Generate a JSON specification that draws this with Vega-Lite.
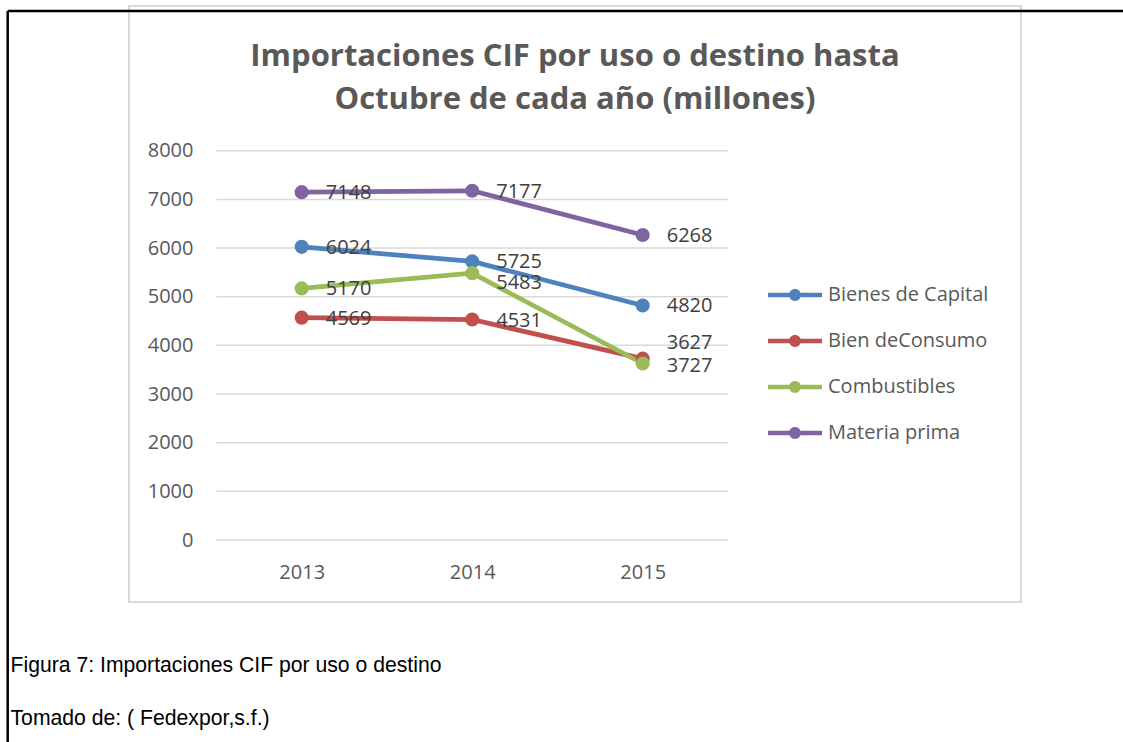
{
  "$schema": "https://vega.github.io/schema/vega-lite/v6.json",
  "width": 892,
  "height": 596,
  "autosize": {"type": "none"},
  "padding": {"left": 129, "top": 6, "right": 102, "bottom": 140},
  "background": "white",
  "config": {
    "view": {"stroke": "#d9d9d9", "strokeWidth": 2},
    "font": "Open Sans"
  },
  "title": {
    "text": ["Importaciones CIF por uso o destino hasta", "Octubre de cada año (millones)"],
    "font": "Open Sans",
    "fontSize": 31,
    "fontWeight": "bold",
    "color": "#595959",
    "anchor": "middle",
    "frame": "group",
    "baseline": "top",
    "offset": -110,
    "lineHeight": 43
  },
  "data": {
    "values": [
      {"series": "Bienes de Capital", "year": 2013, "value": 6024},
      {"series": "Bienes de Capital", "year": 2014, "value": 5725},
      {"series": "Bienes de Capital", "year": 2015, "value": 4820},
      {"series": "Bien deConsumo", "year": 2013, "value": 4569},
      {"series": "Bien deConsumo", "year": 2014, "value": 4531},
      {"series": "Bien deConsumo", "year": 2015, "value": 3727},
      {"series": "Combustibles", "year": 2013, "value": 5170},
      {"series": "Combustibles", "year": 2014, "value": 5483},
      {"series": "Combustibles", "year": 2015, "value": 3627},
      {"series": "Materia prima", "year": 2013, "value": 7148},
      {"series": "Materia prima", "year": 2014, "value": 7177},
      {"series": "Materia prima", "year": 2015, "value": 6268}
    ]
  },
  "layer": [
    {
      "data": {"values": [{"edge": "left"}]},
      "mark": {"type": "rule", "color": "#000000", "strokeWidth": 2.5},
      "encoding": {
        "x": {"datum": 2011.2757, "type": "quantitative", "scale": {"domain": [2011.9871, 2017.2188], "nice": false, "zero": false}},
        "y": {"datum": 10871, "type": "quantitative", "scale": {"domain": [-1274, 10974], "nice": false, "zero": false}},
        "y2": {"datum": -4400}
      }
    },
    {
      "data": {"values": [{"edge": "top"}]},
      "mark": {"type": "rule", "color": "#000000", "strokeWidth": 2.5},
      "encoding": {
        "x": {"datum": 2011.2757, "type": "quantitative", "scale": {"domain": [2011.9871, 2017.2188], "nice": false, "zero": false}},
        "x2": {"datum": 2018.6},
        "y": {"datum": 10871, "type": "quantitative", "scale": {"domain": [-1274, 10974], "nice": false, "zero": false}}
      }
    },
    {
      "data": {"values": [{"tick": 0}, {"tick": 1000}, {"tick": 2000}, {"tick": 3000}, {"tick": 4000}, {"tick": 5000}, {"tick": 6000}, {"tick": 7000}, {"tick": 8000}]},
      "mark": {"type": "rule", "color": "#d9d9d9", "strokeWidth": 1.5},
      "encoding": {
        "x": {"datum": 2012.5, "type": "quantitative", "scale": {"domain": [2011.9871, 2017.2188], "nice": false, "zero": false}},
        "x2": {"datum": 2015.5},
        "y": {"field": "tick", "type": "quantitative", "scale": {"domain": [-1274, 10974], "nice": false, "zero": false}}
      }
    },
    {
      "mark": {"type": "line", "strokeWidth": 4.75, "strokeCap": "round", "strokeJoin": "round"},
      "encoding": {
        "x": {
          "field": "year", "type": "quantitative",
          "scale": {"domain": [2011.9871, 2017.2188], "nice": false, "zero": false},
          "axis": {
            "values": [2013, 2014, 2015], "format": "d", "grid": false, "domain": false, "ticks": false, "tickSize": 0,
            "offset": -30, "labelPadding": 0, "labelBaseline": "middle",
            "labelFont": "Open Sans", "labelFontSize": 20, "labelColor": "#595959",
            "title": ["Figura 7: Importaciones CIF por uso o destino", "Tomado de: ( Fedexpor,s.f.)"],
            "titleFont": "Liberation Sans", "titleFontSize": 21.2, "titleFontWeight": "normal", "titleColor": "#000000",
            "titleAlign": "left", "titleAnchor": "start", "titleBaseline": "alphabetic",
            "titleX": -119, "titleY": 99, "titleLineHeight": 53
          }
        },
        "y": {
          "field": "value", "type": "quantitative",
          "scale": {"domain": [-1274, 10974], "nice": false, "zero": false},
          "axis": {
            "values": [0, 1000, 2000, 3000, 4000, 5000, 6000, 7000, 8000], "format": "d", "grid": false, "domain": false, "ticks": false, "tickSize": 0,
            "offset": -64, "labelPadding": 0, "labelBaseline": "middle", "labelAlign": "right",
            "labelFont": "Open Sans", "labelFontSize": 20, "labelColor": "#595959", "title": null
          }
        },
        "color": {
          "field": "series", "type": "nominal",
          "scale": {"domain": ["Bienes de Capital", "Bien deConsumo", "Combustibles", "Materia prima"], "range": ["#4F81BD", "#C0504D", "#9BBB59", "#8064A2"]},
          "legend": {
            "orient": "none", "legendX": 652.5, "legendY": 275.5, "title": null, "padding": 0,
            "symbolType": "M-2,-0.16L2,-0.16L2,0.16L-2,0.16Z M0.44,0A0.44,0.44 0 1 1 -0.44,0A0.44,0.44 0 1 1 0.44,0Z",
            "symbolSize": 729, "symbolStrokeWidth": 0,
            "labelFont": "Open Sans", "labelFontSize": 20, "labelColor": "#595959", "labelOffset": 19.5, "labelLimit": 400,
            "rowPadding": 22,
            "encode": {"symbols": {"update": {"fill": {"scale": "color", "field": "value"}, "fillOpacity": {"value": 1}, "opacity": {"value": 1}}}}
          }
        }
      }
    },
    {
      "mark": {"type": "point", "filled": true, "size": 200, "opacity": 1},
      "encoding": {
        "x": {"field": "year", "type": "quantitative", "scale": {"domain": [2011.9871, 2017.2188], "nice": false, "zero": false}},
        "y": {"field": "value", "type": "quantitative", "scale": {"domain": [-1274, 10974], "nice": false, "zero": false}},
        "color": {"field": "series", "type": "nominal"}
      }
    },
    {
      "transform": [{"filter": "!((datum.year == 2014 && datum.series == 'Combustibles') || (datum.year == 2015 && (datum.series == 'Combustibles' || datum.series == 'Bien deConsumo')))"}],
      "mark": {"type": "text", "align": "left", "baseline": "middle", "dx": 24, "dy": 1, "font": "Open Sans", "fontSize": 20, "color": "#404040"},
      "encoding": {
        "x": {"field": "year", "type": "quantitative"},
        "y": {"field": "value", "type": "quantitative"},
        "text": {"field": "value", "type": "quantitative", "format": "d"}
      }
    },
    {
      "transform": [{"filter": "datum.year == 2014 && datum.series == 'Combustibles'"}],
      "mark": {"type": "text", "align": "left", "baseline": "middle", "dx": 24, "dy": 10, "font": "Open Sans", "fontSize": 20, "color": "#404040"},
      "encoding": {
        "x": {"field": "year", "type": "quantitative"},
        "y": {"field": "value", "type": "quantitative"},
        "text": {"field": "value", "type": "quantitative", "format": "d"}
      }
    },
    {
      "transform": [{"filter": "datum.year == 2015 && datum.series == 'Bien deConsumo'"}],
      "mark": {"type": "text", "align": "left", "baseline": "middle", "dx": 24, "dy": 7.5, "font": "Open Sans", "fontSize": 20, "color": "#404040"},
      "encoding": {
        "x": {"field": "year", "type": "quantitative"},
        "y": {"field": "value", "type": "quantitative"},
        "text": {"field": "value", "type": "quantitative", "format": "d"}
      }
    },
    {
      "transform": [{"filter": "datum.year == 2015 && datum.series == 'Combustibles'"}],
      "mark": {"type": "text", "align": "left", "baseline": "middle", "dx": 24, "dy": -20.5, "font": "Open Sans", "fontSize": 20, "color": "#404040"},
      "encoding": {
        "x": {"field": "year", "type": "quantitative"},
        "y": {"field": "value", "type": "quantitative"},
        "text": {"field": "value", "type": "quantitative", "format": "d"}
      }
    }
  ]
}
